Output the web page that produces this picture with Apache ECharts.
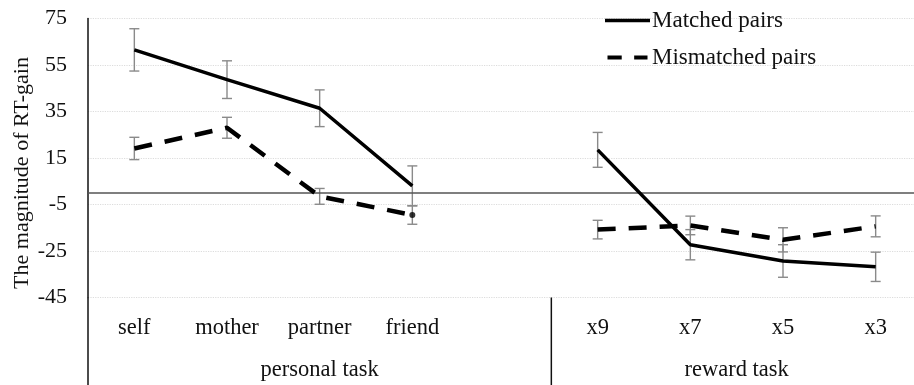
<!DOCTYPE html>
<html>
<head>
<meta charset="utf-8">
<script src="https://cdn.jsdelivr.net/npm/echarts@6/dist/echarts.min.js"></script>
<style>
  html, body { margin: 0; padding: 0; background: #fff; }
  #chart { width: 914px; height: 385px; }
</style>
</head>
<body>
<div id="chart"></div>
<script>
// ---- data ----
const categories = ['self', 'mother', 'partner', 'friend', '', 'x9', 'x7', 'x5', 'x3'];
const groupLabels = ['personal task', 'reward task'];
const groupRanges = [[0, 4], [5, 8]];
const matched = [61.5, 48.7, 36.4, 3.0, '-', 18.5, -22.3, -29.3, -31.8];
const matchedErr = [9.1, 8.1, 7.9, 8.6, '-', 7.5, 6.5, 7.0, 6.3];
const mismatched = [19.1, 28.0, -1.5, -9.5, '-', -15.8, -14.0, -20.2, -14.4];
const mismatchedErr = [4.8, 4.5, 3.4, 4.0, '-', 4.0, 4.0, 5.2, 4.5];
const markedPoint = 3; // index of the mismatched point drawn with a dot
const yTicks = { min: -45, max: 75, interval: 20 };
const seriesNames = ['Matched pairs', 'Mismatched pairs'];
const yTitle = 'The magnitude of RT-gain';

const FONT = "'Liberation Serif', 'Times New Roman', serif";

function errData(vals, errs) {
  const out = [];
  vals.forEach((v, i) => {
    if (v !== '-' && errs[i] !== '-') out.push([i, v - errs[i], v + errs[i]]);
  });
  return out;
}

function errRender(params, api) {
  const x = api.value(0);
  const top = api.coord([x, api.value(2)]);
  const bot = api.coord([x, api.value(1)]);
  const w = 5;
  const st = { stroke: '#8a8a8a', lineWidth: 1.4 };
  return {
    type: 'group',
    children: [
      { type: 'line', shape: { x1: top[0], y1: top[1], x2: bot[0], y2: bot[1] }, style: st },
      { type: 'line', shape: { x1: top[0] - w, y1: top[1], x2: top[0] + w, y2: top[1] }, style: st },
      { type: 'line', shape: { x1: bot[0] - w, y1: bot[1], x2: bot[0] + w, y2: bot[1] }, style: st }
    ]
  };
}

const chart = echarts.init(document.getElementById('chart'), null, { renderer: 'canvas' });

const option = {
  animation: false,
  backgroundColor: '#fff',
  textStyle: { fontFamily: FONT },
  grid: { left: 88, width: 834, top: 18.5, height: 279, containLabel: false, outerBoundsMode: 'none' },
  legend: {
    data: [
      { name: seriesNames[0], icon: 'path://M0,0 L45,0 L45,3.5 L0,3.5 Z' },
      { name: seriesNames[1], icon: 'path://M0,0 L16,0 L16,4.5 L0,4.5 Z M30,0 L45,0 L45,4.5 L30,4.5 Z' }
    ],
    orient: 'vertical',
    left: 600,
    top: 4,
    itemWidth: 45,
    itemHeight: 4,
    itemGap: 14,
    itemStyle: { color: '#000' },
    textStyle: { fontFamily: FONT, fontSize: 23, color: '#111', padding: [0, 0, 0, -3] },
    selectedMode: false
  },
  xAxis: {
    type: 'category',
    data: categories,
    boundaryGap: true,
    axisLine: { show: false },
    axisTick: { show: false },
    axisLabel: { fontFamily: FONT, fontSize: 22.5, color: '#111', margin: 19, interval: 0 },
    splitLine: { show: false }
  },
  yAxis: {
    type: 'value',
    min: yTicks.min,
    max: yTicks.max,
    interval: yTicks.interval,
    axisLine: { show: true, lineStyle: { color: '#111', width: 1.5 } },
    axisTick: { show: false },
    axisLabel: { fontFamily: FONT, fontSize: 22, color: '#111', margin: 21 },
    splitLine: { show: true, lineStyle: { color: '#dcdcdc', type: 'dotted', width: 1.2 } }
  },
  series: [
    {
      name: 'err-matched',
      type: 'custom',
      renderItem: errRender,
      data: errData(matched, matchedErr),
      encode: { x: 0, y: [1, 2] },
      z: 1,
      silent: true
    },
    {
      name: 'err-mismatched',
      type: 'custom',
      renderItem: errRender,
      data: errData(mismatched, mismatchedErr),
      encode: { x: 0, y: [1, 2] },
      z: 1,
      silent: true
    },
    {
      name: seriesNames[0],
      type: 'line',
      data: matched,
      symbol: 'none',
      connectNulls: false,
      lineStyle: { color: '#000', width: 3.5, type: 'solid' },
      itemStyle: { color: '#000' },
      z: 3,
      markLine: {
        silent: true,
        symbol: 'none',
        label: { show: false },
        lineStyle: { color: '#555', width: 1.6, type: 'solid' },
        data: [{ yAxis: 0 }],
        z: 2
      }
    },
    {
      name: seriesNames[1],
      type: 'line',
      data: mismatched,
      symbol: 'none',
      connectNulls: false,
      lineStyle: { color: '#000', width: 4.5, type: [18, 13] },
      itemStyle: { color: '#000' },
      z: 3
    },
    {
      name: 'dot',
      type: 'scatter',
      data: [[markedPoint, mismatched[markedPoint]]],
      symbol: 'circle',
      symbolSize: 6,
      itemStyle: { color: '#000' },
      z: 4,
      silent: true
    }
  ]
};

chart.setOption(option);

// decorations derived from the axes
const px = i => chart.convertToPixel({ xAxisIndex: 0 }, i);
const py = v => chart.convertToPixel({ yAxisIndex: 0 }, v);
const band = px(1) - px(0);
const yBot = py(yTicks.min);
const H = 385;
const graphics = [];
const sepStyle = { stroke: '#111', lineWidth: 1.5 };
graphics.push({ type: 'line', shape: { x1: px(0) - band / 2, y1: yBot, x2: px(0) - band / 2, y2: H }, style: sepStyle, silent: true });
const sepX = (px(groupRanges[0][1]) + px(groupRanges[1][0])) / 2;
graphics.push({ type: 'line', shape: { x1: sepX, y1: yBot, x2: sepX, y2: H }, style: sepStyle, silent: true });
groupLabels.forEach((g, k) => {
  const cx = (px(groupRanges[k][0]) + px(groupRanges[k][1])) / 2;
  graphics.push({
    type: 'text', x: cx, y: 370, silent: true,
    style: { text: g, fontFamily: FONT, fontSize: 22.5, fill: '#111', align: 'center', verticalAlign: 'middle' }
  });
});
graphics.push({
  type: 'text', x: 22, y: 173, rotation: Math.PI / 2, silent: true,
  style: { text: yTitle, fontFamily: FONT, fontSize: 22, fill: '#111', align: 'center', verticalAlign: 'middle' }
});
chart.setOption({ graphic: graphics });
</script>
</body>
</html>
